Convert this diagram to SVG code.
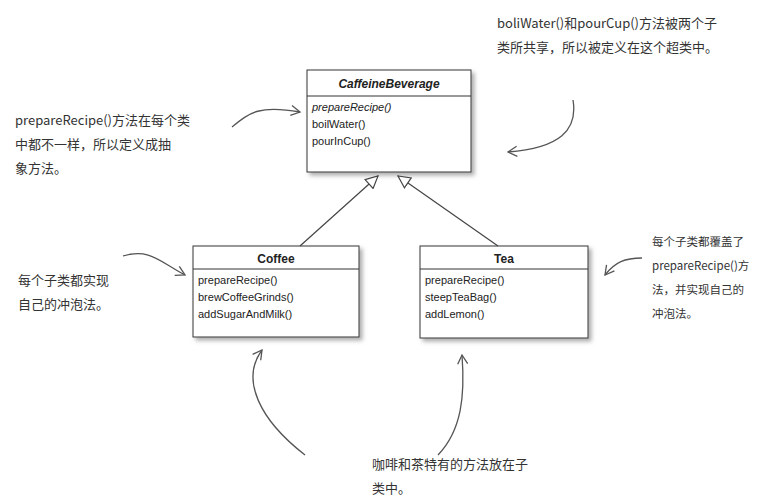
<svg xmlns="http://www.w3.org/2000/svg" width="758" height="501" viewBox="0 0 758 501">
<style>
.box{fill:#fff;stroke:#333;stroke-width:1}
.t{font-family:"Liberation Sans",Arial,sans-serif;font-size:11px;fill:#222}
.h{font-family:"Liberation Sans",Arial,sans-serif;font-size:12px;font-weight:bold;fill:#222}
.n{font-family:"Noto Sans CJK SC",sans-serif;font-size:13px;fill:#333}
.s{font-size:11.5px}
.c{fill:none;stroke:#444;stroke-width:1.2}
.hand{fill:none;stroke:#555;stroke-width:1.3}
</style>
<defs>
<filter id="sh" x="-10%" y="-10%" width="125%" height="125%"><feDropShadow dx="3" dy="3" stdDeviation="2" flood-color="#888" flood-opacity="0.7"/></filter>
<marker id="tri" viewBox="0 0 14 14" refX="13" refY="7" markerWidth="14" markerHeight="14" markerUnits="userSpaceOnUse" orient="auto"><path d="M1,1 L13,7 L1,13 Z" fill="#fff" stroke="#444" stroke-width="1.2"/></marker>
<marker id="ah" viewBox="0 0 12 12" refX="10" refY="6" markerWidth="12" markerHeight="12" markerUnits="userSpaceOnUse" orient="auto"><path d="M1,1 L10,6 L1,11" fill="none" stroke="#555" stroke-width="1.3"/></marker>
</defs>
<rect width="758" height="501" fill="#fff"/>
<g id="CaffeineBeverage">
<rect class="box" x="307" y="70" width="164" height="102" filter="url(#sh)"/>
<line x1="307" y1="96" x2="471" y2="96" stroke="#333"/>
<text class="h" x="389" y="88" text-anchor="middle" font-style="italic">CaffeineBeverage</text>
<text class="t" x="312" y="111" font-style="italic">prepareRecipe()</text>
<text class="t" x="312" y="128">boilWater()</text>
<text class="t" x="312" y="145">pourInCup()</text>
</g>
<g id="Coffee">
<rect class="box" x="193" y="246" width="166" height="91" filter="url(#sh)"/>
<line x1="193" y1="269" x2="359" y2="269" stroke="#333"/>
<text class="h" x="276" y="263" text-anchor="middle">Coffee</text>
<text class="t" x="198" y="284">prepareRecipe()</text>
<text class="t" x="198" y="301">brewCoffeeGrinds()</text>
<text class="t" x="198" y="318">addSugarAndMilk()</text>
</g>
<g id="Tea">
<rect class="box" x="420" y="246" width="168" height="92" filter="url(#sh)"/>
<line x1="420" y1="269" x2="588" y2="269" stroke="#333"/>
<text class="h" x="504" y="263" text-anchor="middle">Tea</text>
<text class="t" x="425" y="284">prepareRecipe()</text>
<text class="t" x="425" y="301">steepTeaBag()</text>
<text class="t" x="425" y="318">addLemon()</text>
</g>
<g id="connectors">
<line class="c" x1="300" y1="246" x2="378" y2="176" marker-end="url(#tri)"/>
<line class="c" x1="498" y1="246" x2="398" y2="176" marker-end="url(#tri)"/>
</g>
<g id="notes">
<text class="n" x="15" y="125">prepareRecipe()方法在每个类</text>
<text class="n" x="15" y="149">中都不一样，所以定义成抽</text>
<text class="n" x="15" y="173">象方法。</text>
<path class="hand" d="M232,127 C250,112 260,105 300,112" marker-end="url(#ah)"/>
<text class="n" x="497" y="28">boliWater()和pourCup()方法被两个子</text>
<text class="n" x="497" y="52">类所共享，所以被定义在这个超类中。</text>
<path class="hand" d="M573,100 C578,130 560,148 508,152" marker-end="url(#ah)"/>
<text class="n" x="18" y="285">每个子类都实现</text>
<text class="n" x="18" y="309">自己的冲泡法。</text>
<path class="hand" d="M123,256 C150,248 160,262 185,275" marker-end="url(#ah)"/>
<text class="n s" x="652" y="246">每个子类都覆盖了</text>
<text class="n s" x="652" y="270">prepareRecipe()方</text>
<text class="n s" x="652" y="294">法，并实现自己的</text>
<text class="n s" x="652" y="318">冲泡法。</text>
<path class="hand" d="M642,258 C625,258 615,262 605,275" marker-end="url(#ah)"/>
<text class="n" x="372" y="469">咖啡和茶特有的方法放在子</text>
<text class="n" x="372" y="493">类中。</text>
<path class="hand" d="M305,455 C260,420 240,380 262,350" marker-end="url(#ah)"/>
<path class="hand" d="M438,455 C462,430 465,395 462,355" marker-end="url(#ah)"/>
</g>
</svg>
